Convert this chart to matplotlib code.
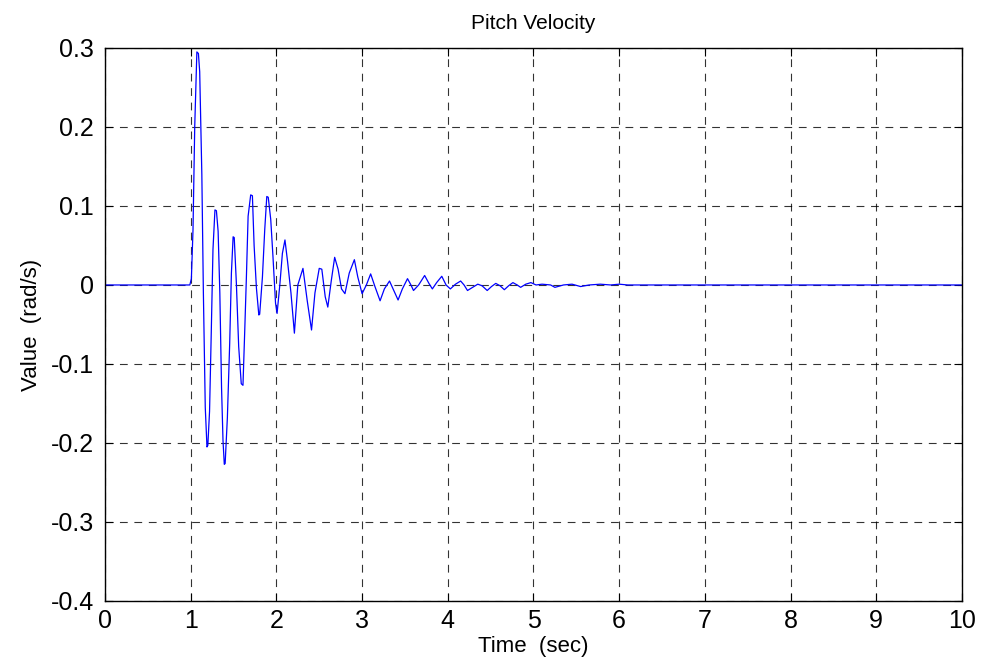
import matplotlib
matplotlib.use("Agg")
import matplotlib.pyplot as plt

### --- data (time in sec, pitch velocity in rad/s)
time_s = [0.0, 0.99, 1.008, 1.027, 1.047, 1.072, 1.09, 1.105, 1.13, 1.148, 1.17,
          1.19, 1.20, 1.22, 1.24, 1.26, 1.283, 1.30, 1.32, 1.34, 1.36, 1.377, 1.392, 1.402,
          1.428, 1.455, 1.475, 1.495, 1.508, 1.533, 1.56, 1.59, 1.61, 1.63, 1.65,
          1.67, 1.70, 1.72, 1.74, 1.767, 1.795, 1.805, 1.837, 1.864, 1.888, 1.905, 1.934, 1.96,
          1.99, 2.008, 2.04, 2.07, 2.10, 2.13, 2.17, 2.21, 2.25, 2.31,
          2.36, 2.41, 2.45, 2.50, 2.53, 2.57, 2.60, 2.64, 2.68, 2.72,
          2.76, 2.80, 2.85, 2.91, 2.95, 3.00, 3.05, 3.10, 3.15, 3.21,
          3.26, 3.32, 3.37, 3.42, 3.47, 3.53, 3.57, 3.60, 3.66, 3.73,
          3.78, 3.82, 3.87, 3.93, 3.98, 4.03, 4.09, 4.15, 4.19, 4.23,
          4.29, 4.35, 4.40, 4.46, 4.51, 4.56, 4.61, 4.66, 4.71, 4.76,
          4.81, 4.85, 4.91, 4.97, 5.03, 5.10, 5.20, 5.25, 5.35, 5.45,
          5.55, 5.65, 5.78, 5.90, 6.00, 6.10, 10.0]
pitch_vel = [0.0, 0.0, 0.008, 0.07, 0.2, 0.295, 0.293, 0.27, 0.14, -0.01, -0.155,
             -0.205, -0.203, -0.16, -0.06, 0.045, 0.095, 0.094, 0.068, -0.01, -0.13, -0.197, -0.227, -0.226,
             -0.168, -0.074, 0.015, 0.061, 0.060, 0.002, -0.078, -0.125, -0.127, -0.06, 0.01,
             0.087, 0.114, 0.113, 0.05, -0.004, -0.038, -0.037, 0.01, 0.07, 0.112, 0.111, 0.083, 0.036,
             -0.023, -0.036, 0.0, 0.04, 0.057, 0.03, -0.01, -0.061, 0.0, 0.021,
             -0.02, -0.057, -0.01, 0.021, 0.02, -0.015, -0.028, 0.005, 0.035, 0.02,
             -0.005, -0.011, 0.015, 0.032, 0.01, -0.011, 0.0, 0.014, -0.002, -0.02,
             -0.005, 0.005, -0.007, -0.019, -0.005, 0.008, 0.0, -0.007, 0.0, 0.012,
             0.002, -0.005, 0.003, 0.011, 0.0, -0.005, 0.001, 0.005, 0.0, -0.007,
             -0.003, 0.001, -0.001, -0.007, -0.002, 0.002, -0.001, -0.006, -0.001, 0.003,
             0.0, -0.003, 0.001, 0.003, 0.0, 0.001, 0.0, -0.003, 0.0, 0.001,
             -0.002, 0.0, 0.001, 0.0, 0.001, 0.0, 0.0]

x_ticks = [0, 1, 2, 3, 4, 5, 6, 7, 8, 9, 10]
y_ticks = [-0.4, -0.3, -0.2, -0.1, 0, 0.1, 0.2, 0.3]
y_labels = ["-0.4", "-0.3", "-0.2", "-0.1", "0", "0.1", "0.2", "0.3"]

plt.rcParams["font.family"] = ["Liberation Sans", "DejaVu Sans"]

fig = plt.figure(figsize=(9.85, 6.66), dpi=100)
ax = fig.add_axes([0.1066, 0.0976, 0.87, 0.8304])

ax.plot(time_s, pitch_vel, color="#0000ff", lw=0.9)

ax.set_xlim(0, 10)
ax.set_ylim(-0.4, 0.3)
ax.set_xticks(x_ticks)
ax.set_yticks(y_ticks)
ax.set_yticklabels(y_labels)
ax.tick_params(direction="in", top=True, right=True, length=6,
               labelsize=18, pad=6, colors="black")
ax.tick_params(axis="y", pad=8)
ax.grid(True, color="black", linestyle=(0, (7, 6)), lw=0.8, alpha=0.8)
for sp in ax.spines.values():
    sp.set_linewidth(1.0)

ax.set_title("Pitch Velocity", fontsize=15, pad=14)
ax.set_xlabel("Time  (sec)", fontsize=16, labelpad=2)
ax.set_ylabel("Value  (rad/s)", fontsize=16, labelpad=6)

fig.savefig("out.png", dpi=100)
